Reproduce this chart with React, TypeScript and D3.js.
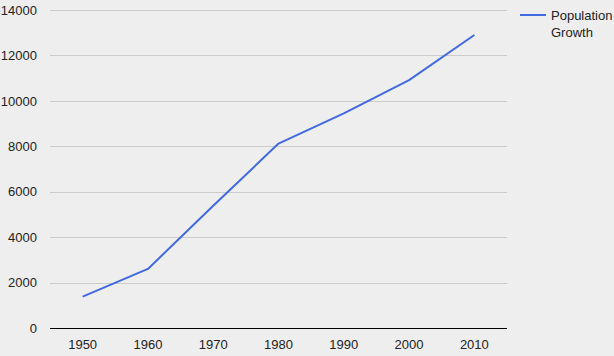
import React from "react";
import * as d3 from "d3";

const years = ["1950", "1960", "1970", "1980", "1990", "2000", "2010"];
const population = [1380, 2600, 5380, 8120, 9450, 10910, 12900];
const yTicks = [0, 2000, 4000, 6000, 8000, 10000, 12000, 14000];
const seriesName = ["Population", "Growth"];

const W = 614, H = 356;
const left = 50, right = 507, top = 10, bottom = 328;

export default function App() {
  const x = d3.scalePoint<string>().domain(years).range([left, right]).padding(0.5);
  const y = d3.scaleLinear().domain([0, 14000]).range([bottom, top]);
  const line = d3.line<number>().x((_, i) => x(years[i])!).y((d) => y(d));
  const font = "Arial, 'Liberation Sans', sans-serif";
  return (
    <svg width={W} height={H} style={{ position: "absolute", left: 0, top: 0, display: "block" }}>
      <rect x={0} y={0} width={W} height={H} fill="#eeeeee" />
      {yTicks.map((t) => (
        <g key={t}>
          {t !== 0 && (
            <line x1={left} x2={right} y1={Math.round(y(t)) + 0.5} y2={Math.round(y(t)) + 0.5} stroke="#cccccc" strokeWidth={1} />
          )}
          <text x={37} y={y(t) + 4.7} textAnchor="end" fontFamily={font} fontSize={13} fill="#222222">
            {t}
          </text>
        </g>
      ))}
      <line x1={left} x2={right} y1={bottom + 0.5} y2={bottom + 0.5} stroke="#000000" strokeWidth={1} />
      {years.map((yr) => (
        <text key={yr} x={x(yr)!} y={348.5} textAnchor="middle" fontFamily={font} fontSize={13} fill="#222222">
          {yr}
        </text>
      ))}
      <path d={line(population)!} fill="none" stroke="#4169e1" strokeWidth={2} strokeLinejoin="round" />
      <line x1={520} x2={546} y1={15} y2={15} stroke="#4169e1" strokeWidth={2} />
      {seriesName.map((s, i) => (
        <text key={s} x={551} y={20 + i * 17} fontFamily={font} fontSize={13} fill="#222222">
          {s}
        </text>
      ))}
    </svg>
  );
}
